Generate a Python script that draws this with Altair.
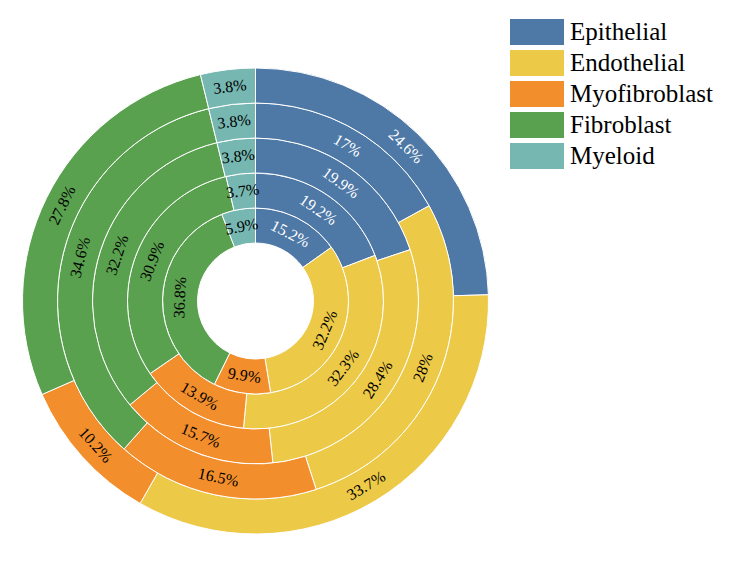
import math
import altair as alt
import pandas as pd

categories = ["Epithelial", "Endothelial", "Myofibroblast", "Fibroblast", "Myeloid"]
colors = ["#4e79a7", "#edc948", "#f28e2b", "#59a14f", "#76b7b2"]

ring1 = [15.2, 32.2, 9.9, 36.8, 5.9]
ring2 = [19.2, 32.3, 13.9, 30.9, 3.7]
ring3 = [19.9, 28.4, 15.7, 32.2, 3.8]
ring4 = [17, 28, 16.5, 34.6, 3.8]
ring5 = [24.6, 33.7, 10.2, 27.8, 3.8]
rings = [ring1, ring2, ring3, ring4, ring5]

rows = []
for ri, vals in enumerate(rings, start=1):
    for ci, (cat, v) in enumerate(zip(categories, vals)):
        rows.append({"ring": ri, "cat": cat, "order": ci, "value": v,
                     "label": f"{v:g}%"})
df = pd.DataFrame(rows)

FONT = "Liberation Serif"

base = (
    alt.Chart(df)
    .transform_joinaggregate(total="sum(value)", groupby=["ring"])
    .transform_window(cum="sum(value)", sort=[alt.SortField("order")],
                      groupby=["ring"], frame=[None, 0])
    .transform_calculate(
        t1="datum.cum / datum.total",
        t0="(datum.cum - datum.value) / datum.total",
        r0="datum.ring - 1",
        rm="datum.ring - 0.5",
    )
    .transform_calculate(tm="(datum.t0 + datum.t1) / 2")
    .transform_calculate(deg="datum.tm * 360")
    .transform_calculate(
        ang="((datum.deg > 90 && datum.deg < 270) ? datum.deg - 180 : datum.deg) + 360",
        tcolor="datum.cat == 'Epithelial' ? 'white' : 'black'",
    )
    .transform_calculate(angle="datum.ang % 360")
)

theta_scale = alt.Scale(domain=[0, 1], range=[0, 2 * math.pi])
radius_scale = alt.Scale(type="linear", domain=[0, 5], range=[58, 233], zero=False)

arcs = base.mark_arc(stroke="white", strokeWidth=1, x=247.5, y=293).encode(
    theta=alt.Theta("t0:Q", scale=theta_scale),
    theta2="t1:Q",
    radius=alt.Radius("ring:Q", scale=radius_scale),
    radius2="r0:Q",
    color=alt.Color(
        "cat:N",
        scale=alt.Scale(domain=categories, range=colors),
        sort=categories,
        legend=alt.Legend(
            title=None,
            orient="none",
            legendX=502,
            legendY=11,
            symbolType="M-1,-1H3.1538V1H-1Z",
            symbolSize=676,
            symbolStrokeWidth=0,
            symbolOpacity=1,
            labelFont=FONT,
            labelFontSize=25,
            labelColor="black",
            labelOffset=34,
            rowPadding=5,
            padding=0,
        ),
    ),
    order=alt.Order("order:Q"),
)

labels = base.mark_text(font=FONT, fontSize=16, align="center", baseline="middle",
                        x=247.5, y=293).encode(
    theta=alt.Theta("tm:Q", scale=theta_scale),
    radius=alt.Radius("rm:Q", scale=radius_scale),
    text="label:N",
    angle=alt.Angle("angle:Q", scale=None),
    fill=alt.Fill("tcolor:N", scale=None),
)

chart = (
    alt.layer(arcs, labels)
    .properties(width=720, height=560, padding=0,
                autosize=alt.AutoSizeParams(type="none"))
    .configure_view(stroke=None)
)

chart.save("out.html", embed_options={"renderer": "svg", "actions": False})
